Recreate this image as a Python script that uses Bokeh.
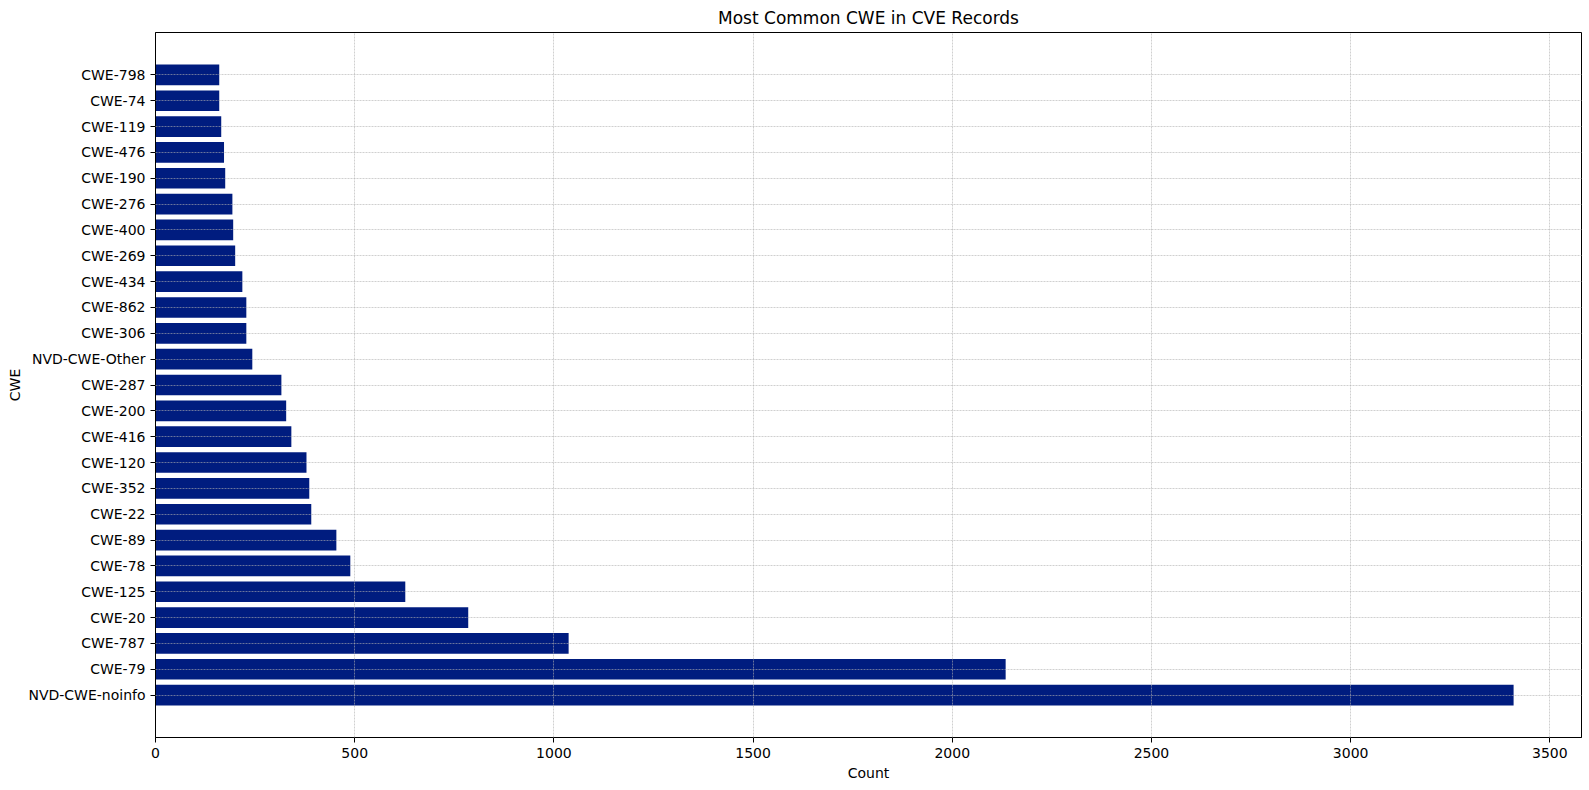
from bokeh.plotting import figure
from bokeh.models import Range1d, FixedTicker, ColumnDataSource
from bokeh.embed import file_html
from bokeh.resources import INLINE

categories = ["NVD-CWE-noinfo", "CWE-79", "CWE-787", "CWE-20", "CWE-125", "CWE-78",
              "CWE-89", "CWE-22", "CWE-352", "CWE-120", "CWE-416", "CWE-200",
              "CWE-287", "NVD-CWE-Other", "CWE-306", "CWE-862", "CWE-434", "CWE-269",
              "CWE-400", "CWE-276", "CWE-190", "CWE-476", "CWE-119", "CWE-74", "CWE-798"]
counts = [3409, 2134, 1037, 785, 627, 489, 454, 391, 386, 379, 341, 328,
          316, 243, 228, 228, 218, 200, 195, 193, 175, 172, 165, 160, 160]
x_ticks = [0, 500, 1000, 1500, 2000, 2500, 3000, 3500]

FONT = "DejaVu Sans"
positions = list(range(len(categories)))
src = ColumnDataSource(dict(y=positions, count=counts, cat=categories))

xmax = max(counts) * 1.05
span = (len(categories) - 1) + 0.8
p = figure(width=1589, height=790, output_backend="svg", toolbar_location=None,
           x_range=Range1d(0, xmax),
           y_range=Range1d(-0.4 - span * 0.05, len(categories) - 1 + 0.4 + span * 0.05),
           title="Most Common CWE in CVE Records",
           min_border_left=155, min_border_right=8, min_border_top=32, min_border_bottom=53)

p.hbar(y="y", right="count", left=0, height=0.8, source=src,
       fill_color="#001c7f", line_color=None)

p.title.align = "center"
p.title.text_font = FONT
p.title.text_font_size = "17px"
p.title.text_font_style = "normal"
p.title.text_color = "black"

p.xaxis.ticker = FixedTicker(ticks=x_ticks)
p.yaxis.ticker = FixedTicker(ticks=positions)
p.yaxis.major_label_overrides = {i: c for i, c in zip(positions, categories)}
p.xaxis.axis_label = "Count"
p.yaxis.axis_label = "CWE"

for ax in (p.xaxis, p.yaxis):
    ax.axis_label_text_font = FONT
    ax.axis_label_text_font_size = "14px"
    ax.axis_label_text_font_style = "normal"
    ax.axis_label_text_color = "black"
    ax.major_label_text_font = FONT
    ax.major_label_text_font_size = "14px"
    ax.major_label_text_color = "black"
    ax.axis_line_color = "black"
    ax.major_tick_line_color = "black"
    ax.major_tick_out = 5
    ax.major_tick_in = 0
    ax.minor_tick_line_color = None
p.xaxis.axis_label_standoff = 4
p.yaxis.axis_label_standoff = 2

for g in (p.xgrid, p.ygrid):
    g.grid_line_color = "#b0b0b0"
    g.grid_line_dash = "2 1"
    g.grid_line_width = 0.6
    g.level = "overlay"

p.outline_line_color = "black"
p.outline_line_width = 1
p.background_fill_color = "white"
p.border_fill_color = "white"

open("out.html", "w").write(file_html(p, INLINE))
